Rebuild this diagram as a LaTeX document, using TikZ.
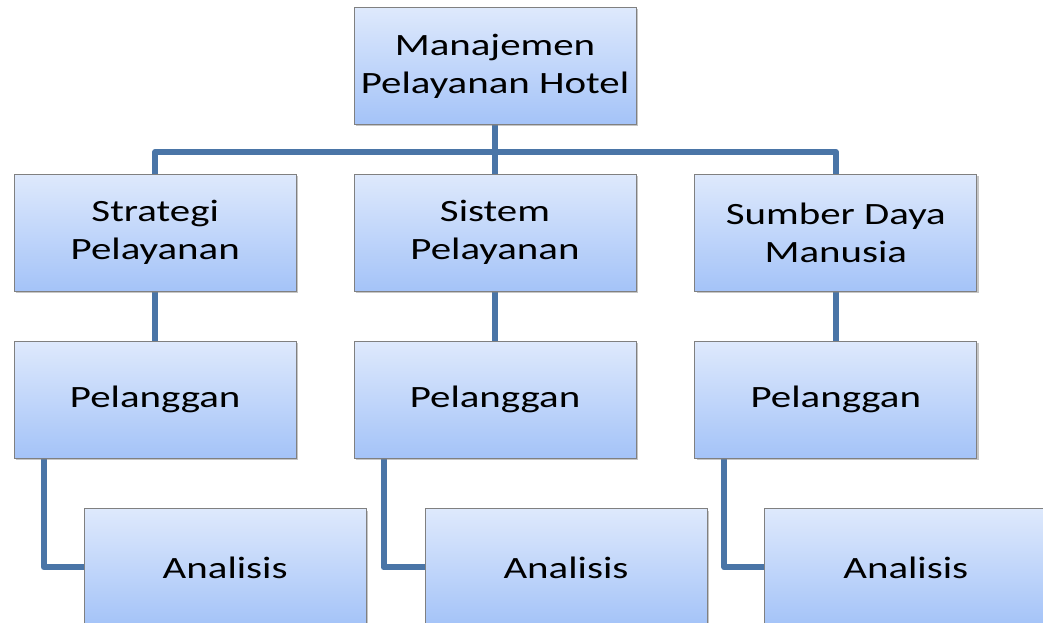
\documentclass[tikz,border=0pt]{standalone}
\usepackage{fontspec}
\setmainfont{Carlito}
\newfontfamily\widefont[FakeStretch=1.32]{Carlito}
\usepackage{tikz}
\usetikzlibrary{positioning,backgrounds,shadows}
\definecolor{boxtop}{RGB}{222,233,252}
\definecolor{boxbot}{RGB}{164,195,248}
\definecolor{boxline}{RGB}{128,128,128}
\definecolor{linkblue}{RGB}{74,117,167}
\tikzstyle{unit} = [rectangle, draw=boxline, line width=0.8pt, top color=boxtop, bottom color=boxbot,
text=black, text centered, align=center, font=\widefont\fontsize{31}{38}\selectfont,
minimum width=282pt, minimum height=117pt, inner sep=0pt,
drop shadow={shadow xshift=2pt, shadow yshift=-2pt, opacity=0.45, fill=gray}]
\tikzstyle{link} = [draw=linkblue, line width=6pt, line join=round]

\begin{document}
\begin{tikzpicture}[auto]
\useasboundingbox (0,0) rectangle (1043pt,623pt);
\clip (0,0) rectangle (1043pt,623pt);

\node[unit] (top) at (495pt,557pt) {Manajemen\\Pelayanan Hotel};

% second level =============================
\node[unit, below=49pt of top] (sis) {Sistem\\Pelayanan};
\node[unit, left=57pt of sis] (strat) {Strategi\\Pelayanan};
\node[unit, right=58pt of sis] (sdm) {Sumber Daya\\Manusia};

% third level
\node[unit, below=49pt of strat] (pel1) {Pelanggan};
\node[unit, below=49pt of sis] (pel2) {Pelanggan};
\node[unit, below=49pt of sdm] (pel3) {Pelanggan};

% fourth level
\node[unit, below=50pt of pel1, xshift=70pt] (an1) {Analisis};
\node[unit, below=50pt of pel2, xshift=71pt] (an2) {Analisis};
\node[unit, below=50pt of pel3, xshift=70pt] (an3) {Analisis};

% edges
\begin{scope}[on background layer]
\path[link] (strat.north) -- ++(0,22pt) -| (sdm.north);
\path[link] (top) -- (sis);
\path[link] (strat) -- (pel1);
\path[link] (sis) -- (pel2);
\path[link] (sdm) -- (pel3);
\path[link] ([xshift=30pt]pel1.south west) |- (an1.west);
\path[link] ([xshift=30pt]pel2.south west) |- (an2.west);
\path[link] ([xshift=30pt]pel3.south west) |- (an3.west);
\end{scope}

\end{tikzpicture}
\end{document}
